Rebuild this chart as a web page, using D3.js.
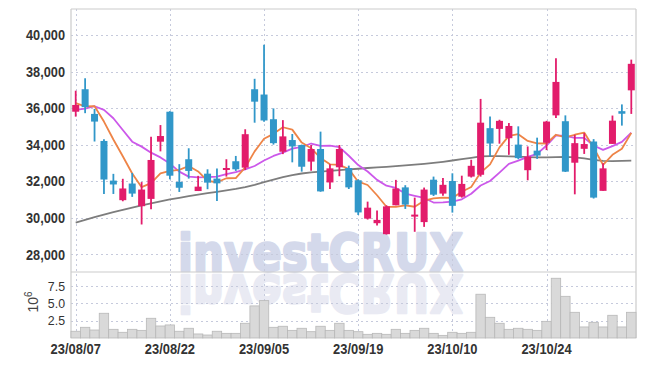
<!DOCTYPE html>
<html>
<head>
<meta charset="utf-8">
<script src="https://cdn.jsdelivr.net/npm/d3@7"></script>
<style>
  body { margin: 0; background: #fff; }
  text { font-family: "Liberation Sans", Arial, sans-serif; }
</style>
</head>
<body>
<svg id="chart" width="645" height="366"></svg>
<script>
// trading days shown (yy/mm/dd)
const dates = ['23/08/07','23/08/08','23/08/09','23/08/10','23/08/11','23/08/14','23/08/16','23/08/17','23/08/18','23/08/21',
  '23/08/22','23/08/23','23/08/24','23/08/25','23/08/28','23/08/29','23/08/30','23/08/31','23/09/01','23/09/04',
  '23/09/05','23/09/06','23/09/07','23/09/08','23/09/11','23/09/12','23/09/13','23/09/14','23/09/15','23/09/18',
  '23/09/19','23/09/20','23/09/21','23/09/22','23/09/25','23/09/26','23/09/27','23/10/04','23/10/05','23/10/06',
  '23/10/10','23/10/11','23/10/12','23/10/13','23/10/16','23/10/17','23/10/18','23/10/19','23/10/20','23/10/23',
  '23/10/24','23/10/25','23/10/26','23/10/27','23/10/30','23/10/31','23/11/01','23/11/02','23/11/03','23/11/06'];

const open  = [35800,37030,35680,34200,32030,30960,31870,30630,31030,34160,35800,31960,33200,31460,32410,32140,32610,33090,32740,37030,
  36740,35390,33610,34250,33980,33070,33760,31930,32760,32720,32050,29950,29700,29100,30680,31660,30100,29760,32080,31320,
  32010,31150,32250,32350,34900,34860,34350,34000,32600,33670,34100,35600,35280,33010,33770,34170,31470,34040,35830,36970];
const high  = [36950,37630,35950,34300,32400,32130,32450,31950,34430,35070,35830,32930,33800,32290,32650,32690,33200,33380,34840,37600,
  39470,35980,35340,34580,34000,33980,34710,32930,33980,32850,32100,30880,30400,30680,32070,31780,31100,31650,32250,32180,
  32430,32300,33170,36500,35540,35360,35180,35000,33900,34380,35300,38720,35600,34540,34630,34300,32980,35590,36200,38650];
const low   = [35530,35720,34170,31300,31300,30900,31140,29630,30460,33630,32100,31410,32140,31460,31560,30920,32250,32560,32610,35200,
  35250,34000,33480,33030,32520,32570,31420,31570,32270,31570,30150,29900,29580,29080,30680,30480,29230,29500,31190,31200,
  30280,31100,32200,32250,33350,34050,33440,33200,32050,33220,33700,35460,32500,31280,33490,31050,31470,34040,35040,35680];
const close = [36170,36050,35260,32090,31820,31600,31320,31540,33160,34470,32300,31640,32560,31700,31920,31880,32720,32650,34570,36350,
  35320,34080,34450,33900,32790,33760,31440,32700,33760,31660,30290,30550,29880,30620,31600,30720,30170,31540,31260,31800,
  30650,31850,32840,35200,34060,35300,35020,33260,33350,33400,35260,37430,32520,34080,34030,31100,32700,35310,35690,38420];
// volume, millions of shares
const volume = [0.97,1.54,1.15,3.56,1.25,0.82,1.25,1.1,2.84,1.73,1.88,0.97,1.4,0.58,0.43,0.97,0.67,0.67,2.12,4.62,
  5.38,1.54,1.69,1.1,1.4,0.91,1.69,1.1,2.12,1.1,0.91,0.53,0.67,0.53,1.25,0.67,1.1,1.4,0.67,0.38,
  0.82,0.67,0.82,6.3,2.98,2.12,1.25,1.4,1.25,1.1,2.4,8.6,6.0,3.7,1.59,2.26,1.59,3.27,1.59,3.7];
// moving average lines
const ma5 = [36270,36090,36100,35260,34280,33360,32420,31670,31890,32420,32560,32620,32830,32530,32020,31940,32160,32170,32750,33630,
  34320,34590,34950,34820,34110,33800,33270,32920,32890,32660,31970,31790,31230,30600,30590,30670,30600,30930,31060,31100,
  31080,31420,31680,32470,32920,33850,34480,34570,34200,34070,34060,34540,34390,34540,34660,33830,32890,33440,33770,34640];
const ma10 = [35900,35970,36100,35900,35440,34800,34160,33890,33560,33300,32960,32520,32250,32210,32220,32250,32390,32500,32640,32830,
  33130,33380,33560,33780,33870,34060,33930,33940,33860,33390,32880,32530,32070,31750,31630,31320,31200,31080,30830,30840,
  30880,31010,31310,31760,32010,32470,32950,33120,33330,33490,33950,34510,34480,34370,34370,33950,33710,33920,34150,34650];
const maLong = [29730,29880,30030,30170,30300,30430,30550,30670,30790,30900,31000,31090,31180,31260,31340,31420,31500,31580,31680,31800,
  31950,32080,32220,32330,32420,32480,32520,32560,32600,32640,32680,32720,32750,32780,32820,32860,32900,32950,33000,33060,
  33130,33200,33280,33360,33370,33370,33360,33340,33320,33300,33300,33320,33330,33300,33250,33160,33110,33100,33110,33120];

const priceTicks = [28000,30000,32000,34000,36000,38000,40000];
const volTicks = [2.5,5.0,7.5];
const dateTicks = [0,10,20,30,40,50];

const pLeft = 71, pRight = 636, pTop = 9, pMid = 272, pBottom = 338;
const svg = d3.select('#chart');

const x = d3.scaleBand().domain(d3.range(dates.length)).range([pLeft,pRight]).padding(0);
const bw = x.bandwidth();
const cx = i => x(i) + bw/2;
const y = d3.scaleLinear().domain([27030,41420]).range([pMid,pTop]);
const yv = d3.scaleLinear().domain([0,9.5]).range([pBottom,pMid]);

// squeeze a label to a narrower width (the original uses a condensed face)
function narrow(sel, ratio) {
  sel.each(function() {
    const w = this.getComputedTextLength();
    d3.select(this).attr('textLength', w*ratio).attr('lengthAdjust','spacingAndGlyphs');
  });
}

// watermark + reflection
const wm = svg.append('g');
wm.append('text').text('investCRUX')
  .attr('x',178).attr('y',271)
  .attr('textLength',285).attr('lengthAdjust','spacingAndGlyphs')
  .attr('font-size',52).attr('font-weight','bold').attr('fill','#d4d9eb')
  .attr('stroke','#d4d9eb').attr('stroke-width',2.5).attr('stroke-linejoin','round')
  .style('font-family','"DejaVu Sans", sans-serif');
wm.append('text').text('investCRUX')
  .attr('transform','translate(0,546) scale(1,-1)')
  .attr('x',178).attr('y',271)
  .attr('textLength',285).attr('lengthAdjust','spacingAndGlyphs')
  .attr('font-size',52).attr('font-weight','bold').attr('fill','#e9eaf3')
  .attr('stroke','#e9eaf3').attr('stroke-width',2.5).attr('stroke-linejoin','round')
  .style('font-family','"DejaVu Sans", sans-serif');

// grid
const grid = svg.append('g').attr('stroke','#c6cadc').attr('stroke-dasharray','2,3').attr('stroke-width',1);
grid.selectAll('.hp').data(priceTicks).enter().append('line')
  .attr('x1',pLeft).attr('x2',pRight).attr('y1',d=>Math.round(y(d))+0.5).attr('y2',d=>Math.round(y(d))+0.5);
grid.selectAll('.hv').data(volTicks).enter().append('line')
  .attr('x1',pLeft).attr('x2',pRight).attr('y1',d=>Math.round(yv(d))+0.5).attr('y2',d=>Math.round(yv(d))+0.5);
grid.selectAll('.vx').data(dateTicks).enter().append('line')
  .attr('y1',pTop).attr('y2',pBottom).attr('x1',d=>Math.round(cx(d))+0.5).attr('x2',d=>Math.round(cx(d))+0.5);

// frame
const frame = svg.append('g').attr('stroke','#cccccc').attr('stroke-width',1.2);
frame.append('line').attr('x1',pLeft).attr('x2',pRight).attr('y1',pTop).attr('y2',pTop);
frame.append('line').attr('x1',pLeft).attr('x2',pRight).attr('y1',pMid).attr('y2',pMid);
frame.append('line').attr('x1',pLeft).attr('x2',pLeft).attr('y1',pTop).attr('y2',pBottom);
frame.append('line').attr('x1',pRight).attr('x2',pRight).attr('y1',pTop).attr('y2',pBottom);

// volume bars
svg.append('g').selectAll('rect').data(volume).enter().append('rect')
  .attr('x',(d,i)=>x(i)).attr('width',bw)
  .attr('y',d=>yv(d)).attr('height',d=>pBottom-yv(d))
  .attr('fill','#d9d9d9').attr('stroke','#b8b8b8').attr('stroke-width',0.8);

// moving averages
const line = d3.line().x((d,i)=>cx(i)).y(d=>y(d));
[[maLong,'#7d7d7d'],[ma10,'#cc58ea'],[ma5,'#ee8447']].forEach(([arr,col])=>{
  svg.append('path').attr('d',line(arr)).attr('fill','none')
    .attr('stroke',col).attr('stroke-width',1.8).attr('stroke-linejoin','round');
});

// candles
const up = '#e21c6b', down = '#3197c9';
const candles = svg.append('g').selectAll('g').data(dates).enter().append('g');
candles.append('line')
  .attr('x1',(d,i)=>cx(i)).attr('x2',(d,i)=>cx(i))
  .attr('y1',(d,i)=>y(high[i])).attr('y2',(d,i)=>y(low[i]))
  .attr('stroke',(d,i)=>close[i]>=open[i]?up:down).attr('stroke-width',1.8);
candles.append('rect')
  .attr('x',(d,i)=>cx(i)-3.5).attr('width',7)
  .attr('y',(d,i)=>y(Math.max(open[i],close[i])))
  .attr('height',(d,i)=>Math.max(2,Math.abs(y(open[i])-y(close[i]))))
  .attr('fill',(d,i)=>close[i]>=open[i]?up:down);

// axes
const yAxis = svg.append('g').attr('transform',`translate(${pLeft},0)`)
  .call(d3.axisLeft(y).tickValues(priceTicks).tickFormat(d3.format(',')).tickSize(0).tickPadding(6));
yAxis.select('.domain').remove();
yAxis.selectAll('text').attr('font-size',15).attr('font-weight','bold').attr('fill','#333')
  .style('font-family','"Liberation Sans", sans-serif').call(narrow, 0.85);

const vAxis = svg.append('g').attr('transform',`translate(${pLeft},0)`)
  .call(d3.axisLeft(yv).tickValues(volTicks).tickFormat(d3.format('.1f')).tickSize(0).tickPadding(6));
vAxis.select('.domain').remove();
vAxis.selectAll('text').attr('font-size',13).attr('fill','#333')
  .style('font-family','"Liberation Sans", sans-serif').call(narrow, 0.95);

const unit = svg.append('text').attr('transform','translate(38,302) rotate(-90)')
  .attr('text-anchor','middle').attr('font-size',14).attr('fill','#444');
unit.append('tspan').text('10');
unit.append('tspan').text('6').attr('font-size',10).attr('dy',-6);

const xAxis = svg.append('g').attr('transform',`translate(0,${pBottom})`)
  .call(d3.axisBottom(x).tickValues(dateTicks).tickFormat(i=>dates[i]).tickSize(0).tickPadding(5));
xAxis.select('.domain').remove();
xAxis.selectAll('text').attr('font-size',15).attr('font-weight','bold').attr('fill','#333')
  .style('font-family','"Liberation Sans", sans-serif').call(narrow, 0.86);
</script>
</body>
</html>
